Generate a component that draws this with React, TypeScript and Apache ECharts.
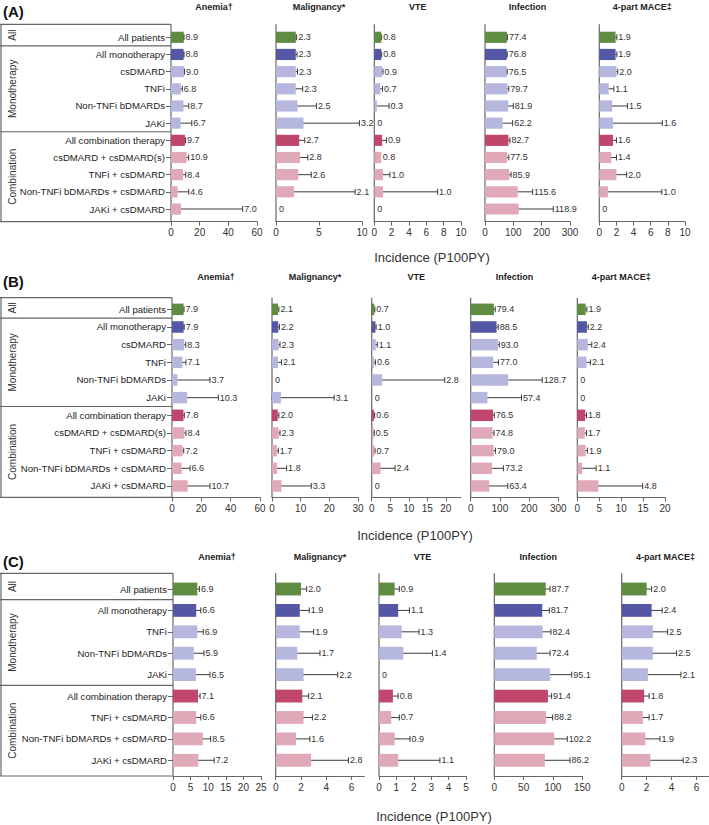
import React, { useEffect, useRef } from 'react';
import * as echarts from 'echarts';

const FONT = "'Liberation Sans', Arial, Helvetica, sans-serif";

const measures = ['Anemia\u2020', 'Malignancy*', 'VTE', 'Infection', '4-part MACE\u2021'];
const axisTitleText = 'Incidence (P100PY)';
const groupNames = ['All', 'Monotherapy', 'Combination'];

const catsAB = ['All patients', 'All monotherapy', 'csDMARD', 'TNFi', 'Non-TNFi bDMARDs', 'JAKi',
  'All combination therapy', 'csDMARD + csDMARD(s)', 'TNFi + csDMARD', 'Non-TNFi bDMARDs + csDMARD', 'JAKi + csDMARD'];
const catsC = ['All patients', 'All monotherapy', 'TNFi', 'Non-TNFi bDMARDs', 'JAKi',
  'All combination therapy', 'TNFi + csDMARD', 'Non-TNFi bDMARDs + csDMARD', 'JAKi + csDMARD'];
const rowTypesAB = ['all', 'mono', 'monoSub', 'monoSub', 'monoSub', 'monoSub', 'comb', 'combSub', 'combSub', 'combSub', 'combSub'];
const rowTypesC = ['all', 'mono', 'monoSub', 'monoSub', 'monoSub', 'comb', 'combSub', 'combSub', 'combSub'];
const groupSizesAB = [1, 5, 5];
const groupSizesC = [1, 4, 4];

// x-axis ranges / tick steps
const axisMaxA = [60, 10, 10, 300, 10];
const axisStepA = [20, 5, 2, 100, 2];
const axisMaxB = [60, 30, 24, 300, 20];
const axisStepB = [20, 10, 5, 100, 5];
const axisMaxC = [25, 7, 5, 150, 7];
const axisStepC = [5, 2, 1, 50, 2];

// ---- Panel A ----
const anemiaA = [8.9, 8.8, 9.0, 6.8, 8.7, 6.7, 9.7, 10.9, 8.4, 4.6, 7.0];
const anemiaA_lo = [8.7, 8.5, 8.6, 5.6, 5.6, 2.8, 9.3, 9.6, 6.3, 1.4, 0.5];
const anemiaA_hi = [9.1, 9.1, 9.4, 7.9, 12.4, 14.5, 10.1, 12.3, 10.3, 12.4, 50.0];
const maligA = [2.3, 2.3, 2.3, 2.3, 2.5, 3.2, 2.7, 2.8, 2.6, 2.1, 0];
const maligA_lo = [2.2, 2.15, 2.1, 1.8, 1.4, 1.2, 2.2, 2.2, 1.9, 0.6, null];
const maligA_hi = [2.4, 2.45, 2.5, 3.1, 4.7, 9.7, 3.35, 3.7, 4.1, 9.2, null];
const vteA = [0.8, 0.8, 0.9, 0.7, 0.3, 0, 0.9, 0.8, 1.0, 1.0, 0];
const vteA_lo = [0.7, 0.7, 0.8, 0.4, 0.08, null, 0.6, null, 0.45, 0.08, null];
const vteA_hi = [0.85, 0.85, 1.0, 0.95, 1.7, null, 1.4, null, 1.8, 7.3, null];
const infA = [77.4, 76.8, 76.5, 79.7, 81.9, 62.2, 82.7, 77.5, 85.9, 115.6, 118.9];
const infA_lo = [75.5, 75, 74.5, 75.5, 65, 41, 78, 71, 80, 79, 59];
const infA_hi = [79.3, 78.5, 78.5, 84, 100, 97.6, 88, 84, 92, 168, 241];
const maceA = [1.9, 1.9, 2.0, 1.1, 1.5, 1.6, 1.6, 1.4, 2.0, 1.0, 0];
const maceA_lo = [1.75, 1.75, 1.85, 0.75, 0.65, 0.35, 1.2, 0.85, 1.25, 0.08, null];
const maceA_hi = [2.05, 2.05, 2.15, 1.7, 3.3, 7.35, 2.0, 2.0, 3.2, 7.3, null];

// ---- Panel B ----
const anemiaB = [7.9, 7.9, 8.3, 7.1, 3.7, 10.3, 7.8, 8.4, 7.2, 6.6, 10.7];
const anemiaB_lo = [7.4, 7.4, 6.9, 5.2, 0.45, 3.2, 7.2, 7.4, 6.5, 3.2, 4.3];
const anemiaB_hi = [8.2, 8.3, 9.4, 9.5, 25.9, 31.6, 8.4, 9.5, 8.0, 12.3, 25.9];
const maligB = [2.1, 2.2, 2.3, 2.1, 0, 3.1, 2.0, 2.3, 1.7, 1.8, 3.3];
const maligB_lo = [1.9, 1.9, 1.9, 1.2, null, 0.1, 1.6, 1.9, 1.3, 0.3, 0.3];
const maligB_hi = [2.4, 2.6, 2.8, 3.3, null, 21.7, 2.4, 2.8, 2.2, 5.1, 13.7];
const vteB = [0.7, 1.0, 1.1, 0.6, 2.8, 0, 0.6, 0.5, 0.7, 2.4, 0];
const vteB_lo = [0.55, 0.8, 0.7, 0.3, 0.3, null, 0.4, 0.3, 0.4, 0.9, null];
const vteB_hi = [0.85, 1.2, 1.5, 1.0, 19.7, null, 0.8, 0.7, 0.9, 6.3, null];
const infB = [79.4, 88.5, 93.0, 77.0, 128.7, 57.4, 76.5, 74.8, 79.0, 73.2, 63.4];
const infB_lo = [75, 83, 80, 58, 62, 15, 72, 69, 73, 47, 30];
const infB_hi = [84, 94, 98, 95, 245, 174, 81, 80, 85, 112, 127];
const maceB = [1.9, 2.2, 2.4, 2.1, 0, 0, 1.8, 1.7, 1.9, 1.1, 4.8];
const maceB_lo = [1.7, 1.8, 1.5, 1.2, null, null, 1.5, 1.3, 1.5, 0.1, 1.4];
const maceB_hi = [2.2, 2.5, 3.3, 3.0, null, null, 2.1, 2.1, 2.3, 4.3, 14.9];

// ---- Panel C ----
const anemiaC = [6.9, 6.6, 6.9, 5.9, 6.5, 7.1, 6.6, 8.5, 7.2];
const anemiaC_lo = [6.1, 5.3, 5.3, 3.9, 3.9, 6.25, 5.6, 6.5, 4.4];
const anemiaC_hi = [7.5, 7.9, 8.6, 8.8, 10.5, 7.7, 7.9, 10.7, 11.7];
const maligC = [2.0, 1.9, 1.9, 1.7, 2.2, 2.1, 2.2, 1.6, 2.8];
const maligC_lo = [1.65, 1.35, 1.2, 0.8, 0.95, 1.65, 1.65, 0.85, 1.25];
const maligC_hi = [2.45, 2.65, 3.0, 3.5, 4.9, 2.6, 2.9, 2.7, 5.75];
const vteC = [0.9, 1.1, 1.3, 1.4, 0, 0.8, 0.7, 0.9, 1.1];
const vteC_lo = [0.7, 0.7, 0.8, 0.63, null, 0.55, 0.45, 0.4, 0.35];
const vteC_hi = [1.17, 1.75, 2.3, 3.07, null, 1.1, 1.17, 1.78, 3.5];
const infC = [87.7, 81.7, 82.4, 72.4, 95.1, 91.4, 88.2, 102.2, 86.2];
const infC_lo = [81.8, 72, 70, 55, 69, 82.4, 79, 86.4, 59.7];
const infC_hi = [95, 93.8, 96.6, 95, 132, 97.7, 99.4, 124.4, 129];
const maceC = [2.0, 2.4, 2.5, 2.5, 2.1, 1.8, 1.7, 1.9, 2.3];
const maceC_lo = [1.6, 1.73, 1.65, 1.36, 0.93, 1.33, 1.2, 1.12, 1.0];
const maceC_hi = [2.4, 3.25, 3.68, 4.4, 4.75, 2.2, 2.2, 3.07, 4.93];

const COLORS: Record<string, string> = {
  all: '#5e8d42',
  mono: '#5457a6',
  monoSub: '#b5b7de',
  comb: '#c1466b',
  combSub: '#e0a9b8',
};

const panels = [
  {
    label: '(A)', labelY: 11, titleY: 7, cats: catsAB, types: rowTypesAB, groups: groupSizesAB,
    bandTop: 28.7, bandBottom: 217.6, boxTop: 24.3, boxBottom: 221.7,
    gridX: [171, 276, 374.3, 485, 599.3], gridW: [86, 86, 86.7, 85, 85.7],
    axisMax: axisMaxA, axisStep: axisStepA, axisTitle: [432, 257],
    measures: [
      [anemiaA, anemiaA_lo, anemiaA_hi], [maligA, maligA_lo, maligA_hi], [vteA, vteA_lo, vteA_hi],
      [infA, infA_lo, infA_hi], [maceA, maceA_lo, maceA_hi],
    ],
  },
  {
    label: '(B)', labelY: 281, titleY: 277.3, cats: catsAB, types: rowTypesAB, groups: groupSizesAB,
    bandTop: 300.5, bandBottom: 494.8, boxTop: 297.7, boxBottom: 497.3,
    gridX: [172, 272, 371.7, 470.7, 577.3], gridW: [88, 86, 89, 87.6, 87.7],
    axisMax: axisMaxB, axisStep: axisStepB, axisTitle: [415, 535],
    measures: [
      [anemiaB, anemiaB_lo, anemiaB_hi], [maligB, maligB_lo, maligB_hi], [vteB, vteB_lo, vteB_hi],
      [infB, infB_lo, infB_hi], [maceB, maceB_lo, maceB_hi],
    ],
  },
  {
    label: '(C)', labelY: 561, titleY: 557, cats: catsC, types: rowTypesC, groups: groupSizesC,
    bandTop: 578.3, bandBottom: 771, boxTop: 573.3, boxBottom: 776,
    gridX: [173, 275.7, 379, 494.3, 621.7], gridW: [88, 88.6, 87, 88, 87.5],
    axisMax: axisMaxC, axisStep: axisStepC, axisTitle: [434, 816.7],
    measures: [
      [anemiaC, anemiaC_lo, anemiaC_hi], [maligC, maligC_lo, maligC_hi], [vteC, vteC_lo, vteC_hi],
      [infC, infC_lo, infC_hi], [maceC, maceC_lo, maceC_hi],
    ],
  },
];

const LINE = '#666';

function buildOption() {
  const grid: any[] = [];
  const xAxis: any[] = [];
  const yAxis: any[] = [];
  const series: any[] = [];
  const graphic: any[] = [];

  panels.forEach((p) => {
    const n = p.cats.length;
    const band = (p.bandBottom - p.bandTop) / n;
    // panel label
    graphic.push({
      type: 'text', x: 3, y: p.labelY,
      style: { text: p.label, fontSize: 15, fontWeight: 'bold', fontFamily: FONT, fill: '#111', align: 'left', verticalAlign: 'middle' },
    });
    // axis title
    graphic.push({
      type: 'text', x: p.axisTitle[0], y: p.axisTitle[1],
      style: { text: axisTitleText, fontSize: 13, fontFamily: FONT, fill: '#333', align: 'center', verticalAlign: 'middle' },
    });
    // group box
    const firstX = p.gridX[0];
    const bounds = [p.boxTop];
    let acc = 0;
    p.groups.forEach((g, gi) => {
      acc += g;
      bounds.push(gi === p.groups.length - 1 ? p.boxBottom : p.bandTop + acc * band);
    });
    bounds.forEach((y) => {
      graphic.push({ type: 'line', shape: { x1: 0, y1: y, x2: firstX, y2: y }, style: { stroke: LINE, lineWidth: 1.2 } });
    });
    graphic.push({ type: 'line', shape: { x1: 1, y1: p.boxTop, x2: 1, y2: p.boxBottom }, style: { stroke: LINE, lineWidth: 1.2 } });
    groupNames.forEach((name, gi) => {
      const cy = (bounds[gi] + bounds[gi + 1]) / 2;
      graphic.push({
        type: 'text', x: 12, y: cy, rotation: Math.PI / 2,
        style: { text: name, fontSize: 10, fontFamily: FONT, fill: '#333', align: 'center', verticalAlign: 'middle' },
      });
    });

    p.measures.forEach((m, mi) => {
      const [vals, los, his] = m as any[];
      const gIdx = grid.length;
      const L = p.gridX[mi];
      const W = p.gridW[mi];
      grid.push({ left: L, top: p.bandTop, width: W, height: p.bandBottom - p.bandTop, containLabel: false });
      const max = p.axisMax[mi];
      const step = p.axisStep[mi];
      xAxis.push({
        type: 'value', gridIndex: gIdx, min: 0, max, interval: step,
        offset: p.boxBottom - p.bandBottom,
        axisLine: { show: true, lineStyle: { color: LINE, width: 1.2 } },
        axisTick: { show: true, length: 4, lineStyle: { color: LINE, width: 1 } },
        axisLabel: {
          show: true, fontSize: 10, color: '#333', fontFamily: FONT, margin: 6,
          showMaxLabel: max % step === 0,
        },
        splitLine: { show: false },
      });
      const first = mi === 0;
      yAxis.push({
        type: 'category', gridIndex: gIdx, data: p.cats, inverse: true,
        axisLine: { show: false },
        axisTick: { show: first, length: 5, alignWithLabel: true, lineStyle: { color: LINE, width: 1 } },
        axisLabel: { show: first, fontSize: 9.6, color: '#222', fontFamily: FONT, margin: 6 },
        splitLine: { show: false },
      });
      // y axis line drawn to span box
      graphic.push({ type: 'line', shape: { x1: L, y1: p.boxTop, x2: L, y2: p.boxBottom }, style: { stroke: LINE, lineWidth: 1.2 } });
      // title
      graphic.push({
        type: 'text', x: L + W / 2, y: p.titleY,
        style: { text: measures[mi], fontSize: 9, fontWeight: 'bold', fontFamily: FONT, fill: '#222', align: 'center', verticalAlign: 'middle' },
      });

      series.push({
        type: 'bar', xAxisIndex: gIdx, yAxisIndex: gIdx,
        barWidth: n === 9 ? '60%' : '65%',
        data: vals.map((v: number, i: number) => ({ value: v, itemStyle: { color: COLORS[p.types[i]] } })),
        silent: true,
      });
      series.push({
        type: 'custom', xAxisIndex: gIdx, yAxisIndex: gIdx, clip: false, silent: true,
        data: vals.map((v: number, i: number) => [v, i]),
        encode: { x: 0, y: 1 },
        renderItem: (params: any, api: any) => {
          const i = params.dataIndex;
          const v = vals[i];
          const lo = los[i];
          const hi = his[i];
          const c = api.coord([v, i]);
          const y = c[1];
          const children: any[] = [];
          let endX = c[0];
          if (lo != null && hi != null) {
            const x1 = api.coord([lo, i])[0];
            const x2 = api.coord([hi, i])[0];
            const st = { stroke: '#3b3b3b', lineWidth: 1 };
            children.push({ type: 'line', shape: { x1, y1: y, x2, y2: y }, style: st });
            children.push({ type: 'line', shape: { x1, y1: y - 3, x2: x1, y2: y + 3 }, style: st });
            children.push({ type: 'line', shape: { x1: x2, y1: y - 3, x2, y2: y + 3 }, style: st });
            endX = Math.max(endX, x2);
          }
          children.push({
            type: 'text', x: endX + (v === 0 ? 3 : 1.5), y,
            style: {
              text: v === 0 ? '0' : v.toFixed(1), fontSize: 9, fontFamily: FONT, fill: '#333',
              align: 'left', verticalAlign: 'middle',
            },
          });
          return { type: 'group', children };
        },
      });
    });
  });

  return { animation: false, backgroundColor: '#fff', grid, xAxis, yAxis, series, graphic };
}

export default function App() {
  const ref = useRef<HTMLDivElement>(null);
  useEffect(() => {
    if (!ref.current) return;
    const chart = echarts.init(ref.current, null, { renderer: 'svg' });
    chart.setOption(buildOption() as any);
    return () => chart.dispose();
  }, []);
  return (
    <div
      ref={ref}
      style={{ position: 'absolute', left: 0, top: 0, width: 709, height: 825, background: '#fff' }}
    />
  );
}
